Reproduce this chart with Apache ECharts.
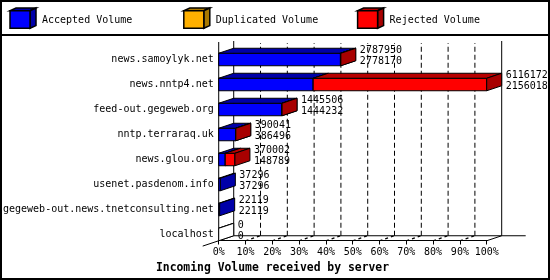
<!DOCTYPE html>
<html><head><meta charset="utf-8">
<script src="https://cdn.jsdelivr.net/npm/echarts@6/dist/echarts.min.js"></script>
<style>html,body{margin:0;padding:0;background:#fff}#c{width:550px;height:280px}</style>
</head><body><div id="c"></div>
<script>
const categories = ['news.samoylyk.net','news.nntp4.net','feed-out.gegeweb.org','nntp.terraraq.uk','news.glou.org','usenet.pasdenom.info','gegeweb-out.news.tnetconsulting.net','localhost'];
const totalVolume = [2787950, 6116172, 1445506, 390041, 370002, 37296, 22119, 0];
const acceptedVolume = [2778170, 2156018, 1444232, 386496, 148789, 37296, 22119, 0];
const duplicatedVolume = [0, 0, 0, 0, 0, 0, 0, 0];
const rejectedVolume = [9780, 3960154, 1274, 3545, 221213, 0, 0, 0];
const percentTicks = [0, 10, 20, 30, 40, 50, 60, 70, 80, 90, 100];
const legendNames = ['Accepted Volume', 'Duplicated Volume', 'Rejected Volume'];
const titleText = 'Incoming Volume received by server';

const FONT = 'DejaVu Sans Mono';
const DX = 15, DY = 5;
const colors = [
  {front: '#0000ff', top: '#0000a8', side: '#0000a8'},
  {front: '#ffb000', top: '#b07c00', side: '#a87800'},
  {front: '#ff0000', top: '#b80000', side: '#a80000'}
];
const scaleMax = Math.max.apply(null, totalVolume);
const pct = v => v / scaleMax * 100;

const segData = [];
categories.forEach((c, i) => {
  const parts = [acceptedVolume[i], duplicatedVolume[i], rejectedVolume[i]];
  let s = 0;
  parts.forEach((p, k) => { if (p > 0) segData.push([i, pct(s), pct(s + p), k]); s += p; });
  if (totalVolume[i] === 0) segData.push([i, 0, 0, -1]);
});
const labelData = categories.map((c, i) => [i, pct(totalVolume[i]), totalVolume[i], acceptedVolume[i]]);

const ST = {stroke: '#000', lineWidth: 1};

function renderBar(params, api) {
  const cat = api.value(0), s = api.value(1), e = api.value(2), k = api.value(3);
  const p0 = api.coord([s, cat]), p1 = api.coord([e, cat]);
  const h = api.size([0, 1])[1] * 0.5;
  const yt = p0[1] - h / 2, yb = p0[1] + h / 2;
  const x0 = p0[0], x1 = p1[0];
  const col = k < 0 ? {front: '#fff', top: '#fff', side: '#fff'} : colors[k];
  const ch = [];
  if (x1 > x0) ch.push({type: 'rect', shape: {x: x0, y: yt, width: x1 - x0, height: h}, style: Object.assign({fill: col.front}, ST)});
  ch.push({type: 'polygon', shape: {points: [[x0, yt], [x1, yt], [x1 + DX, yt - DY], [x0 + DX, yt - DY]]}, style: Object.assign({fill: col.top}, ST)});
  ch.push({type: 'polygon', shape: {points: [[x1, yt], [x1 + DX, yt - DY], [x1 + DX, yb - DY], [x1, yb]]}, style: Object.assign({fill: col.side}, ST)});
  return {type: 'group', children: ch};
}

function renderLabel(params, api) {
  const cat = api.value(0), e = api.value(1);
  const p = api.coord([e, cat]);
  const x = p[0] + DX + 4;
  const f = '10px "' + FONT + '"';
  return {type: 'group', children: [
    {type: 'text', style: {text: String(api.value(2)), x: x, y: p[1] - 9, font: f, fill: '#000', textAlign: 'left', textVerticalAlign: 'middle'}},
    {type: 'text', style: {text: String(api.value(3)), x: x, y: p[1] + 2, font: f, fill: '#000', textAlign: 'left', textVerticalAlign: 'middle'}}
  ]};
}

function renderFloor(params, api) {
  const t = api.value(0);
  const last = categories.length - 1;
  const h = api.size([0, 1])[1];
  const pF = api.coord([t, last]);
  const x = pF[0], yF = pF[1] + h * 0.25;
  const topY = api.coord([t, 0])[1] - h * 0.5 - 6;
  const ch = [];
  const bx = x + DX, by = yF - DY;
  if (t === percentTicks[0]) {
    ch.push({type: 'line', shape: {x1: x - 16, y1: yF + 16 * DY / DX, x2: bx, y2: by}, style: ST});
    ch.push({type: 'line', shape: {x1: x, y1: yF, x2: x, y2: topY + 1}, style: ST});
    ch.push({type: 'line', shape: {x1: bx, y1: by, x2: bx, y2: topY}, style: ST});
    const xe = api.coord([percentTicks[percentTicks.length - 1], last])[0];
    ch.push({type: 'line', shape: {x1: bx, y1: by, x2: xe + DX, y2: by}, style: ST});
  } else if (t === percentTicks[percentTicks.length - 1]) {
    ch.push({type: 'line', shape: {x1: x, y1: yF, x2: bx, y2: by}, style: ST});
    ch.push({type: 'line', shape: {x1: bx, y1: by, x2: bx, y2: topY}, style: ST});
    ch.push({type: 'line', shape: {x1: bx, y1: by, x2: bx + 24, y2: by}, style: ST});
  } else {
    ch.push({type: 'line', shape: {x1: x, y1: yF, x2: bx, y2: by}, style: {stroke: '#000', lineWidth: 1.3, lineDash: [3, 3]}});
    ch.push({type: 'line', shape: {x1: bx, y1: by, x2: bx, y2: topY + 2}, style: {stroke: '#000', lineWidth: 1, lineDash: [5, 3]}});
  }
  return {type: 'group', children: ch};
}

const legendGraphics = [];
legendNames.forEach((n, i) => {
  const bx = 10 + 173.8 * i, fy = 10.7, w = 20, hh = 17.6, dx = 6, dy = 2.7;
  const c = colors[i];
  const st = {stroke: '#000', lineWidth: 1.5};
  legendGraphics.push({type: 'polygon', shape: {points: [[bx, fy], [bx + w, fy], [bx + w + dx, fy - dy], [bx + dx, fy - dy]]}, style: Object.assign({fill: c.top}, st)});
  legendGraphics.push({type: 'polygon', shape: {points: [[bx + w, fy], [bx + w + dx, fy - dy], [bx + w + dx, fy + hh - dy], [bx + w, fy + hh]]}, style: Object.assign({fill: c.side}, st)});
  legendGraphics.push({type: 'rect', shape: {x: bx, y: fy, width: w, height: hh}, style: Object.assign({fill: c.front}, st)});
  legendGraphics.push({type: 'text', x: bx + 32, y: 20.5, style: {text: n, font: '10px "' + FONT + '"', fill: '#000', textAlign: 'left', textVerticalAlign: 'middle'}});
});

const chart = echarts.init(document.getElementById('c'), null, {renderer: 'canvas'});
chart.setOption({
  animation: false,
  backgroundColor: '#fff',
  grid: {left: 218, right: 63.3, top: 47, bottom: 33, containLabel: false},
  xAxis: {
    type: 'value', min: 0, max: 100, interval: 10, offset: -6.5,
    axisLine: {show: true, lineStyle: {color: '#000', width: 1}},
    axisTick: {show: true, length: 4, lineStyle: {color: '#000'}},
    axisLabel: {formatter: '{value}%', color: '#000', fontFamily: FONT, fontSize: 10, margin: 7},
    splitLine: {show: false}
  },
  yAxis: {
    type: 'category', data: categories, inverse: true,
    axisLine: {show: false}, axisTick: {show: false},
    axisLabel: {interval: 0, color: '#000', fontFamily: FONT, fontSize: 10, margin: 5, padding: [2, 0, 0, 0]}
  },
  graphic: [
    {type: 'rect', shape: {x: 1, y: 1, width: 548, height: 278}, style: {fill: 'none', stroke: '#000', lineWidth: 2}, z: 100},
    {type: 'line', shape: {x1: 0, y1: 35, x2: 550, y2: 35}, style: {stroke: '#000', lineWidth: 2}, z: 100},
    {type: 'text', x: 272.5, y: 268.5, style: {text: titleText, font: 'bold 11.4px "' + FONT + '"', fill: '#000', textAlign: 'center', textVerticalAlign: 'middle'}}
  ].concat(legendGraphics),
  series: [
    {type: 'custom', name: 'floor', z: 1, renderItem: renderFloor, data: percentTicks.map(t => [t]), encode: {x: 0}, clip: false, silent: true},
    {type: 'custom', name: 'bars', z: 2, renderItem: renderBar, data: segData, encode: {x: [1, 2], y: 0}, clip: false},
    {type: 'custom', name: 'labels', z: 3, renderItem: renderLabel, data: labelData, encode: {x: 1, y: 0}, clip: false}
  ]
});
</script></body></html>
